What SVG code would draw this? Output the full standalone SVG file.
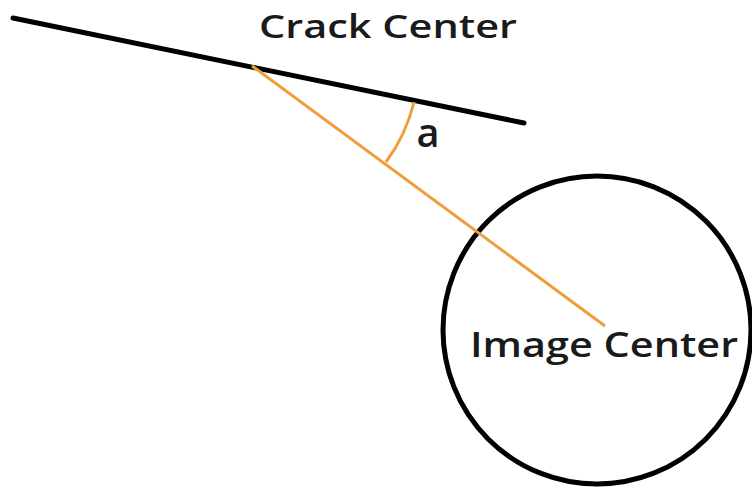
<svg xmlns="http://www.w3.org/2000/svg" width="752" height="491" viewBox="0 0 752 491">
<style>
.lbl{font-family:"Open Sans","Liberation Sans",sans-serif;fill:#1a1a1a;font-weight:600;}
.blk{stroke:#000;stroke-width:5;fill:none;stroke-linecap:round;}
.org{stroke:#EE9E3A;stroke-width:3;fill:none;}
</style>
<rect width="752" height="491" fill="#fff"/>
<g id="crack-line">
<line class="blk" x1="13" y1="18" x2="524" y2="123"/>
</g>
<g id="image-circle">
<circle class="blk" cx="597" cy="330" r="154"/>
</g>
<g id="connectors">
<line class="org" x1="252" y1="66" x2="605" y2="326"/>
<path class="org" d="M414,102 A166,166 0 0 1 386,162"/>
</g>
<g id="labels">
<text class="lbl" x="388" y="38" font-size="33" text-anchor="middle" textLength="258" lengthAdjust="spacingAndGlyphs">Crack Center</text>
<text class="lbl" x="428" y="147" font-size="40" text-anchor="middle" textLength="23" lengthAdjust="spacingAndGlyphs">a</text>
<text class="lbl" x="604" y="357" font-size="34" text-anchor="middle" textLength="268" lengthAdjust="spacingAndGlyphs">Image Center</text>
</g>
</svg>
